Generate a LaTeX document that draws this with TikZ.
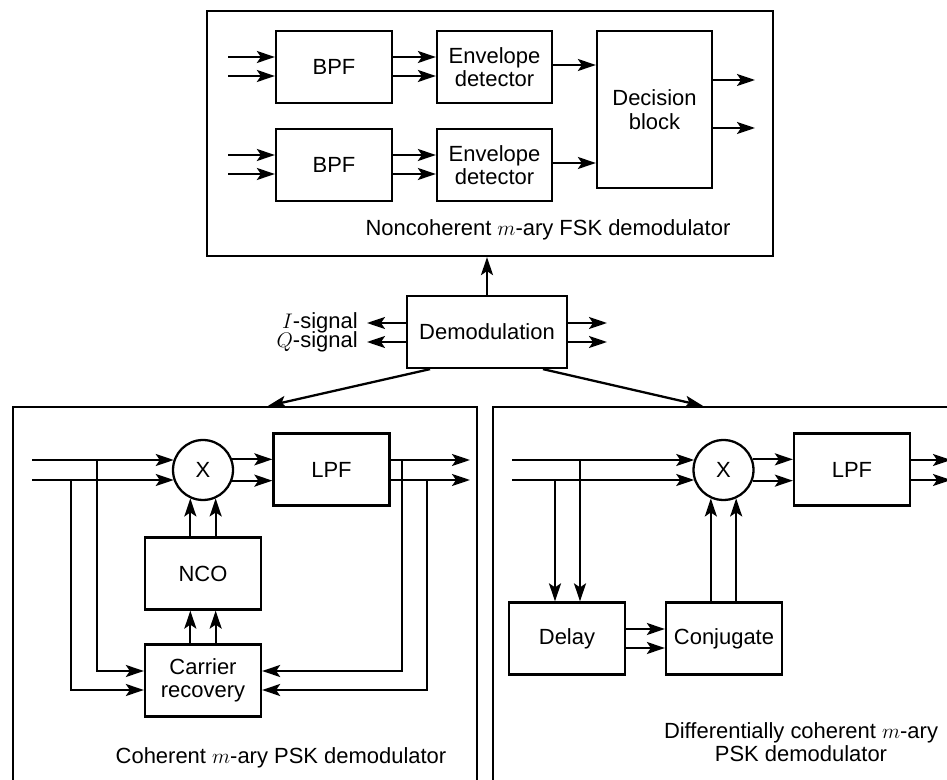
\documentclass[tikz,border=0pt]{standalone}
\usepackage{fontspec}
\setmainfont{Liberation Sans}
\usetikzlibrary{arrows.meta}

\begin{document}
\begin{tikzpicture}[x=0.02cm,y=-0.02cm,font=\fontsize{12.5}{13.3}\selectfont]
\tikzset{
  block/.style={rectangle,draw,line width=1.3pt,minimum width=2.32cm,minimum height=1.44cm,inner sep=0pt,align=center},
  panel/.style={rectangle,draw,line width=1.3pt,inner sep=0pt},
  mixer/.style={circle,draw,line width=1.3pt,minimum size=1.2cm,inner sep=0pt},
  sig/.style={-{Stealth[length=3.6mm,width=2.4mm,inset=0.8mm]},line width=1.3pt},
  caption/.style={inner sep=0pt,align=center}
}
\clip (0,0) rectangle (947,780);
% noncoherent FSK panel
\node[panel,minimum width=11.32cm,minimum height=4.9cm] (fsk) at (490,133.5) {};
\node[block] (bpfa) at (334,67) {BPF};
\node[block] (bpfb) at (334,165) {BPF};
\node[block,minimum width=2.3cm] (enva) at (494.5,67) {Envelope\\detector};
\node[block,minimum width=2.3cm] (envb) at (494.5,165) {Envelope\\detector};
\node[block,minimum width=2.3cm,minimum height=3.14cm] (decide) at (654.5,109.5) {Decision\\block};
\node[caption] (fsklabel) at (548,230) {Noncoherent $m$-ary FSK demodulator};
\coordinate (ina1) at (228,57);
\coordinate (ina2) at (228,76);
\coordinate (inb1) at (228,155);
\coordinate (inb2) at (228,174);
\coordinate (outa) at (755,80);
\coordinate (outb) at (755,128);
\draw[sig] (ina1) -- (bpfa.west |- ina1);
\draw[sig] (ina2) -- (bpfa.west |- ina2);
\draw[sig] (inb1) -- (bpfb.west |- inb1);
\draw[sig] (inb2) -- (bpfb.west |- inb2);
\draw[sig] (bpfa.east |- ina1) -- (enva.west |- ina1);
\draw[sig] (bpfa.east |- ina2) -- (enva.west |- ina2);
\draw[sig] (bpfb.east |- inb1) -- (envb.west |- inb1);
\draw[sig] (bpfb.east |- inb2) -- (envb.west |- inb2);
\draw[sig] (enva.east |- 0,65) -- (decide.west |- 0,65);
\draw[sig] (envb.east |- 0,163) -- (decide.west |- 0,163);
\draw[sig] (decide.east |- outa) -- (outa);
\draw[sig] (decide.east |- outb) -- (outb);

% demodulation
\node[block,minimum width=3.2cm] (demod) at (487,332) {Demodulation};
\coordinate (isig) at (367,323);
\coordinate (qsig) at (367,342);
\coordinate (iout) at (607,323);
\coordinate (qout) at (607,342);
\node[caption,align=right,anchor=east] (iqlabel) at (358,332.5) {$I$-signal\\[-2.5pt]$Q$-signal};
\draw[sig] (demod.north) -- (demod.north |- fsk.south);
\draw[sig] (demod.west |- isig) -- (isig);
\draw[sig] (demod.west |- qsig) -- (qsig);
\draw[sig] (demod.east |- iout) -- (iout);
\draw[sig] (demod.east |- qout) -- (qout);

% coherent PSK panel
\node[panel,minimum width=9.28cm,minimum height=8cm] (coh) at (245,607) {};
\node[mixer] (mixl) at (203,470) {X};
\node[block] (lpfl) at (331.5,469.5) {LPF};
\node[block] (nco) at (203,573.5) {NCO};
\node[block] (carrier) at (203,680.5) {Carrier\\recovery};
\node[caption] (cohlabel) at (281,758) {Coherent $m$-ary PSK demodulator};
\coordinate (cin1) at (32,460);
\coordinate (cin2) at (32,480);
\coordinate (lout1) at (470,460);
\coordinate (lout2) at (470,480);
\draw[sig] (cin1) -- (cin1 -| mixl.160);
\draw[sig] (cin2) -- (cin2 -| mixl.200);
\draw[sig] (mixl.20) -- (lpfl.west |- mixl.20);
\draw[sig] (mixl.340) -- (lpfl.west |- mixl.340);
\draw[sig] (lpfl.east |- lout1) -- (lout1);
\draw[sig] (lpfl.east |- lout2) -- (lout2);
\draw[sig] (nco.north -| mixl.246) -- (mixl.246);
\draw[sig] (nco.north -| mixl.294) -- (mixl.294);
\draw[sig] (carrier.north -| mixl.246) -- (nco.south -| mixl.246);
\draw[sig] (carrier.north -| mixl.294) -- (nco.south -| mixl.294);
\draw[sig] (97,0 |- cin1) |- (carrier.west |- 0,671);
\draw[sig] (71,0 |- cin2) |- (carrier.west |- 0,690);
\draw[sig] (402,0 |- lout1) |- (carrier.east |- 0,671);
\draw[sig] (427,0 |- lout2) |- (carrier.east |- 0,690);

% differentially coherent PSK panel
\node[panel,minimum width=9.34cm,minimum height=8cm] (diff) at (726.5,607) {};
\node[mixer] (mixr) at (723.5,470) {X};
\node[block] (lpfr) at (852,469.5) {LPF};
\node[block] (delay) at (567,638.5) {Delay};
\node[block] (conj) at (724,638.5) {Conjugate};
\node[caption] (difflabel) at (801,742) {Differentially coherent $m$-ary\\PSK demodulator};
\coordinate (din1) at (512,460);
\coordinate (din2) at (512,480);
\coordinate (rout1) at (951,460);
\coordinate (rout2) at (951,480);
\draw[sig] (din1) -- (din1 -| mixr.160);
\draw[sig] (din2) -- (din2 -| mixr.200);
\draw[sig] (mixr.20) -- (lpfr.west |- mixr.20);
\draw[sig] (mixr.340) -- (lpfr.west |- mixr.340);
\draw[sig] (lpfr.east |- rout1) -- (rout1);
\draw[sig] (lpfr.east |- rout2) -- (rout2);
\draw[sig] (580,0 |- din1) -- (delay.north -| 580,0);
\draw[sig] (555,0 |- din2) -- (delay.north -| 555,0);
\draw[sig] (delay.east |- 0,629) -- (conj.west |- 0,629);
\draw[sig] (delay.east |- 0,648) -- (conj.west |- 0,648);
\draw[sig] (conj.north -| mixr.246) -- (mixr.246);
\draw[sig] (conj.north -| mixr.294) -- (mixr.294);

% links from demodulation
\draw[sig] ([xshift=-1.14cm]demod.south) -- (268,0 |- coh.north);
\draw[sig] ([xshift=1.12cm]demod.south) -- (703,0 |- diff.north);
\end{tikzpicture}
\end{document}
